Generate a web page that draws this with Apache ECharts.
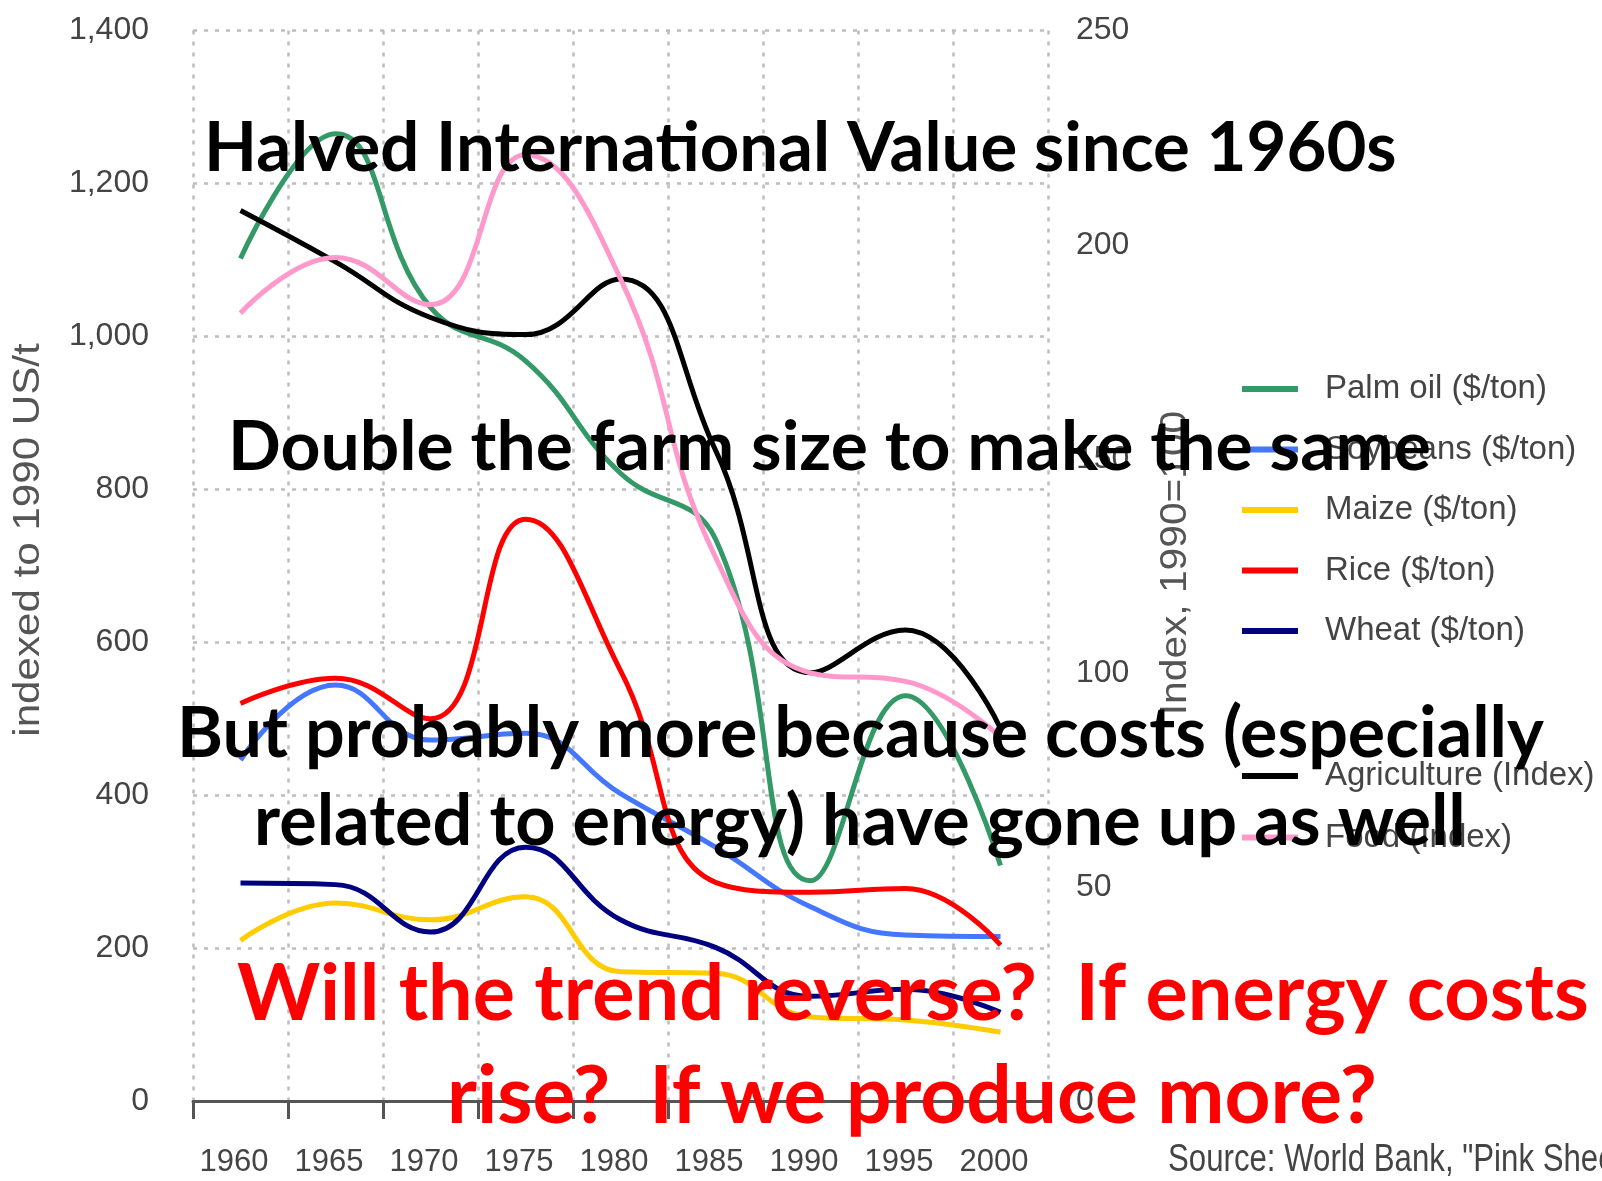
<!DOCTYPE html>
<html>
<head>
<meta charset="utf-8">
<script src="https://cdn.jsdelivr.net/npm/echarts@6/dist/echarts.min.js"></script>
<style>
html,body{margin:0;padding:0;background:#fff;}
#chart{width:1602px;height:1181px;}
</style>
</head>
<body>
<div id="chart"></div>
<script>
// ---- data ----
const years = ['1960','1965','1970','1975','1980','1985','1990','1995','2000'];
const palmOil     = [1102, 1265, 1038, 968, 821, 735, 288, 530, 308];
const soybeans    = [446, 544, 472, 481, 402, 332, 254, 217, 215];
const maize       = [210, 259, 237, 267, 169, 167, 110, 106, 90];
const rice        = [520, 553, 500, 761, 563, 286, 273, 278, 204];
const wheat       = [285, 283, 221, 332, 237, 201, 137, 146, 116];
const agriculture = [208, 196, 183, 179, 192, 152, 100, 110, 87];
const food        = [184, 197, 186, 221, 192, 127, 100, 98, 85];
const leftTicks = {min: 0, max: 1400, interval: 200};
const rightTicks = {min: 0, max: 250, interval: 50};

const overlayLines = [
  {text: 'Halved International Value since 1960s', color: '#000000', x0: 204, x1: 1397, y: 149},
  {text: 'Double the farm size to make the same', color: '#000000', x0: 228, x1: 1431, y: 448},
  {text: 'But probably more because costs (especially', color: '#000000', x0: 177, x1: 1544, y: 734},
  {text: 'related to energy) have gone up as well', color: '#000000', x0: 254, x1: 1466, y: 822},
  {text: 'Will the trend reverse?  If energy costs', color: '#ff0000', x0: 237, x1: 1589, y: 994},
  {text: 'rise?  If we produce more?', color: '#ff0000', x0: 447, x1: 1377, y: 1097}
];

const sansFamily = '"Liberation Sans", Arial, sans-serif';
const boldFamily = 'Lato, "Open Sans", sans-serif';
const grey = '#444444';

const mctx = document.createElement('canvas').getContext('2d');
function fitSize(text, target) {
  mctx.font = 'bold 100px ' + boldFamily;
  return 100 * target / mctx.measureText(text).width;
}

const chart = echarts.init(document.getElementById('chart'), null, {renderer: 'canvas'});

function mk(name, data, color, yIdx) {
  return {
    name: name, type: 'line', data: data, yAxisIndex: yIdx,
    smooth: 0.45, showSymbol: false, symbol: 'none',
    lineStyle: {color: color, width: 5}, itemStyle: {color: color},
    z: 3
  };
}

const graphics = overlayLines.map(l => {
  const s = fitSize(l.text, l.x1 - l.x0);
  return {
    type: 'text', x: l.x0, y: l.y, z: 100, zlevel: 1,
    style: {text: l.text, fill: l.color, font: 'bold ' + s.toFixed(2) + 'px ' + boldFamily,
            textAlign: 'left', textVerticalAlign: 'middle'}
  };
});
graphics.push({
  type: 'text', x: 29, y: 540, rotation: Math.PI / 2, scaleX: 1.17, z: 5,
  style: {text: 'indexed to 1990 US/t', fill: '#555555', font: '36px ' + sansFamily,
          textAlign: 'center', textVerticalAlign: 'middle'}
});
graphics.push({
  type: 'text', x: 1176, y: 563, rotation: Math.PI / 2, scaleX: 1.1, z: 5,
  style: {text: 'Index, 1990=100', fill: '#555555', font: '37px ' + sansFamily,
          textAlign: 'center', textVerticalAlign: 'middle'}
});
graphics.push({
  type: 'text', x: 1168, y: 1160, scaleX: 0.8, z: 5,
  style: {text: 'Source: World Bank, "Pink Sheet"', fill: grey, font: '39px ' + sansFamily,
          textAlign: 'left', textVerticalAlign: 'middle'}
});

const legendText = {color: grey, fontSize: 33, fontFamily: sansFamily, lineHeight: 40, padding: [0, 0, 0, 22]};

chart.setOption({
  animation: false,
  backgroundColor: '#ffffff',
  grid: {left: 193, right: 554, top: 30.6, bottom: 80, containLabel: false},
  legend: [
    {
      data: ['Palm oil ($/ton)', 'Soybeans ($/ton)', 'Maize ($/ton)', 'Rice ($/ton)', 'Wheat ($/ton)'],
      orient: 'vertical', left: 1242, top: 369, padding: 0,
      itemWidth: 56, itemHeight: 6, itemGap: 20.5, icon: 'rect',
      textStyle: legendText, selectedMode: false
    },
    {
      data: ['Agriculture (Index)', 'Food (Index)'],
      orient: 'vertical', left: 1242, top: 756, padding: 0,
      itemWidth: 56, itemHeight: 6, itemGap: 21.5, icon: 'rect',
      textStyle: legendText, selectedMode: false
    }
  ],
  xAxis: {
    type: 'category', data: years, boundaryGap: true,
    axisLine: {show: true, lineStyle: {color: '#555555', width: 3}},
    axisTick: {show: true, length: 18, lineStyle: {color: '#555555', width: 3}},
    axisLabel: {color: grey, fontSize: 31, fontFamily: sansFamily, margin: 46, interval: 0,
                padding: [0, 13, 0, 0]},
    splitLine: {show: true, lineStyle: {color: '#bdbdbd', width: 2.5, type: [4, 7]}}
  },
  yAxis: [
    {
      type: 'value', min: leftTicks.min, max: leftTicks.max, interval: leftTicks.interval,
      axisLine: {show: false}, axisTick: {show: false},
      axisLabel: {color: grey, fontSize: 32, fontFamily: sansFamily, margin: 44,
                  formatter: v => v.toLocaleString('en-US')},
      splitLine: {show: true, lineStyle: {color: '#bdbdbd', width: 2.5, type: [4, 7]}}
    },
    {
      type: 'value', min: rightTicks.min, max: rightTicks.max, interval: rightTicks.interval,
      position: 'right',
      axisLine: {show: false}, axisTick: {show: false},
      axisLabel: {color: grey, fontSize: 32, fontFamily: sansFamily, margin: 28},
      splitLine: {show: false}
    }
  ],
  series: [
    mk('Palm oil ($/ton)', palmOil, '#339966', 0),
    mk('Soybeans ($/ton)', soybeans, '#4477ff', 0),
    mk('Maize ($/ton)', maize, '#ffcc00', 0),
    mk('Rice ($/ton)', rice, '#ff0000', 0),
    mk('Wheat ($/ton)', wheat, '#000080', 0),
    mk('Agriculture (Index)', agriculture, '#000000', 1),
    mk('Food (Index)', food, '#ff99cc', 1)
  ],
  graphic: graphics
});
</script>
</body>
</html>
